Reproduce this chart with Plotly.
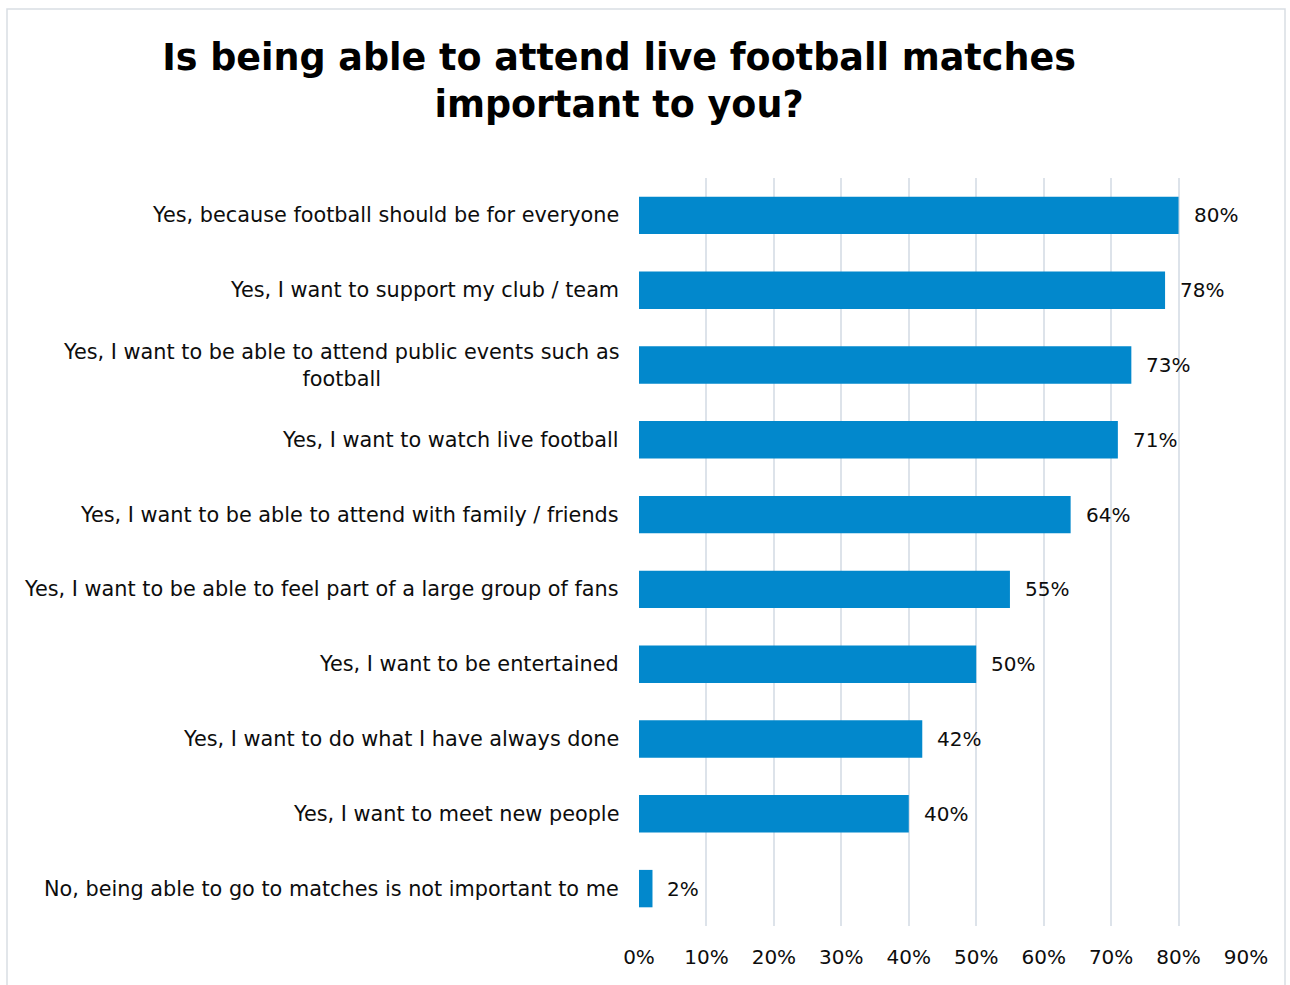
import plotly.graph_objects as go

# Survey responses, top to bottom
categories = [
    "Yes, because football should be for everyone",
    "Yes, I want to support my club / team",
    "Yes, I want to be able to attend public events such as<br>football",
    "Yes, I want to watch live football",
    "Yes, I want to be able to attend with family / friends",
    "Yes, I want to be able to feel part of a large group of fans",
    "Yes, I want to be entertained",
    "Yes, I want to do what I have always done",
    "Yes, I want to meet new people",
    "No, being able to go to matches is not important to me",
]
values = [80, 78, 73, 71, 64, 55, 50, 42, 40, 2]
x_ticks = [0, 10, 20, 30, 40, 50, 60, 70, 80, 90]
x_tick_labels = [f"{t}%" for t in x_ticks]

TITLE = "Is being able to attend live football matches<br>important to you?"

FONT = "DejaVu Sans"
BAR_COLOR = "#0288CC"
GRID_COLOR = "#DDE3EA"
TEXT_COLOR = "#0D0D0D"

W, H = 1290, 985
M_L, M_R, M_T, M_B = 639, 44, 178, 59
plot_w = W - M_L - M_R
plot_h = H - M_T - M_B

fig = go.Figure(
    go.Bar(
        x=values,
        y=categories,
        orientation="h",
        width=0.5,
        marker=dict(color=BAR_COLOR, line=dict(width=0)),
        hoverinfo="skip",
    )
)

# Category labels (centred multi-line text, right-aligned against the axis)
for cat in categories:
    fig.add_annotation(
        x=0, xref="paper", y=cat, yref="y",
        text=cat, showarrow=False,
        xanchor="right", yanchor="middle", align="center",
        xshift=-18,
        font=dict(family=FONT, size=20.8, color=TEXT_COLOR),
    )

# Value labels to the right of each bar
for cat, v in zip(categories, values):
    fig.add_annotation(
        x=v, xref="x", y=cat, yref="y",
        text=f"{v}%", showarrow=False,
        xanchor="left", yanchor="middle",
        xshift=13,
        font=dict(family=FONT, size=20, color=TEXT_COLOR),
    )

# Outer chart frame
fig.add_shape(
    type="rect", xref="paper", yref="paper",
    x0=(7 - M_L) / plot_w, x1=(1285 - M_L) / plot_w,
    y0=-0.2, y1=(H - M_B - 9) / plot_h,
    line=dict(color="#D9DEE4", width=1.5), fillcolor="rgba(0,0,0,0)",
    layer="below",
)

fig.update_layout(
    width=W, height=H,
    margin=dict(l=M_L, r=M_R, t=M_T, b=M_B, pad=0),
    paper_bgcolor="white", plot_bgcolor="white",
    showlegend=False,
    title=dict(
        text=TITLE,
        x=619 / W, xanchor="center", xref="container",
        y=1 - 70 / H, yanchor="top", yref="container",
        font=dict(family=FONT, size=36.5, color="#000000", weight="bold"),
    ),
    xaxis=dict(
        range=[0, 90],
        tickvals=x_ticks, ticktext=x_tick_labels,
        showgrid=True, gridcolor=GRID_COLOR, gridwidth=2,
        zeroline=False, showline=False,
        ticks="outside", ticklen=0, ticklabelstandoff=13,
        tickfont=dict(family=FONT, size=20, color=TEXT_COLOR),
        fixedrange=True,
    ),
    yaxis=dict(
        categoryorder="array", categoryarray=categories,
        autorange="reversed",
        showticklabels=False, showgrid=False, zeroline=False,
        fixedrange=True,
    ),
    bargap=0.5,
)

fig.write_html("out.html")
